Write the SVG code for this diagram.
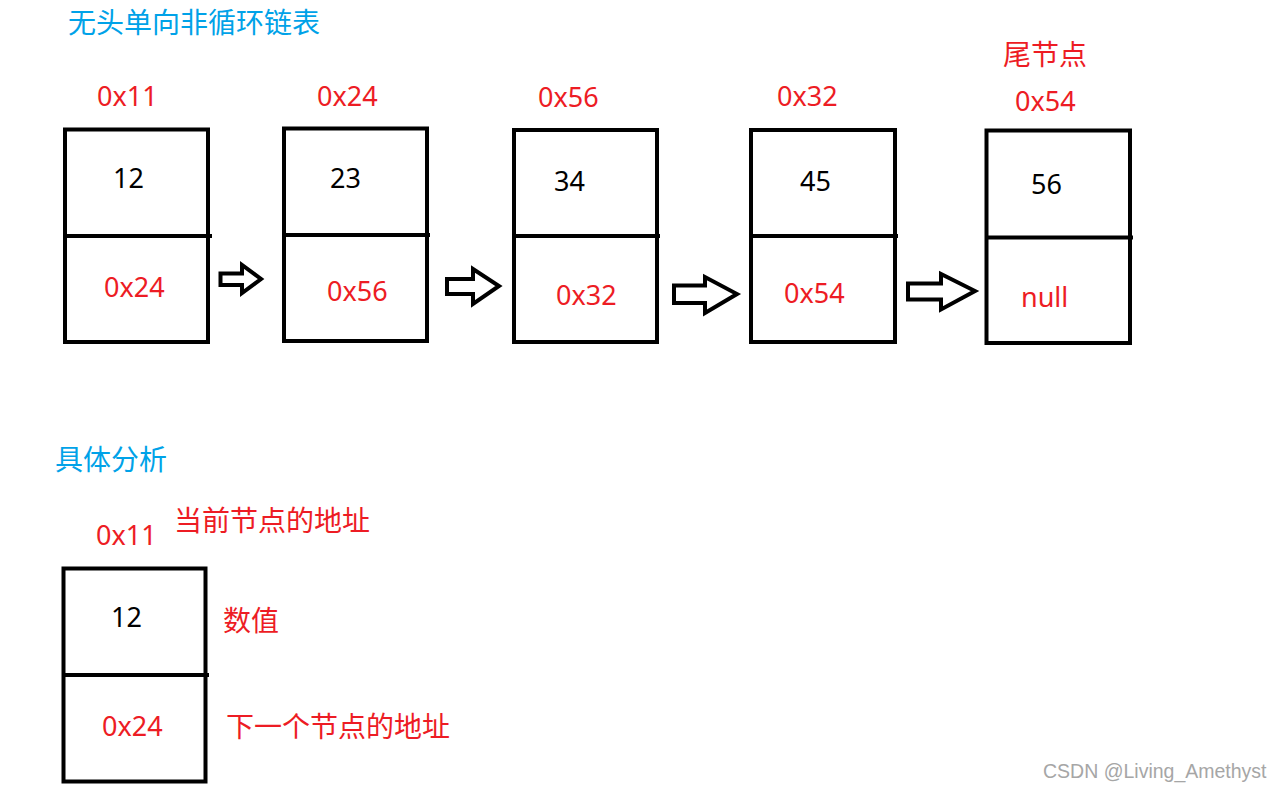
<svg xmlns="http://www.w3.org/2000/svg" width="1283" height="793" viewBox="0 0 1283 793">
<style>
.box{fill:none;stroke:#000;stroke-width:4}
.div{stroke:#000;stroke-width:4}
.arr{fill:#fff;stroke:#000;stroke-width:4;stroke-linejoin:miter}
.num{font-family:"Noto Sans","Noto Sans CJK SC",sans-serif;font-size:27px;fill:#000}
.red{font-family:"Noto Sans","Noto Sans CJK SC",sans-serif;font-size:27px;fill:#ED1C24}
.cjk{font-family:"Noto Sans CJK SC",sans-serif;font-size:28px}
.blue{fill:#00A2E8}
.rc{fill:#ED1C24}
.wm{font-family:"Liberation Sans",sans-serif;font-size:19.5px;fill:#a6a6a6}
</style>
<rect width="1283" height="793" fill="#fff"/>
<text class="cjk blue" x="68" y="33">无头单向非循环链表</text>
<text class="cjk blue" x="55" y="470">具体分析</text>

<g id="node1">
<text class="red" x="97" y="106">0x11</text>
<rect class="box" x="65" y="129.5" width="143" height="212.5"/>
<line class="div" x1="65" y1="236" x2="212" y2="236"/>
<text class="num" x="113" y="188">12</text>
<text class="red" x="104" y="297">0x24</text>
</g>
<g id="node2">
<text class="red" x="317" y="106">0x24</text>
<rect class="box" x="284" y="128.5" width="143" height="212.5"/>
<line class="div" x1="284" y1="235" x2="430" y2="235"/>
<text class="num" x="330" y="188">23</text>
<text class="red" x="327" y="301">0x56</text>
</g>
<g id="node3">
<text class="red" x="538" y="107">0x56</text>
<rect class="box" x="514" y="130" width="143" height="212"/>
<line class="div" x1="514" y1="236" x2="660" y2="236"/>
<text class="num" x="554" y="191">34</text>
<text class="red" x="556" y="305">0x32</text>
</g>
<g id="node4">
<text class="red" x="777" y="106">0x32</text>
<rect class="box" x="751" y="130" width="144" height="212"/>
<line class="div" x1="751" y1="236" x2="898" y2="236"/>
<text class="num" x="800" y="191">45</text>
<text class="red" x="784" y="303">0x54</text>
</g>
<g id="node5">
<text class="cjk rc" x="1003" y="65">尾节点</text>
<text class="red" x="1015" y="111">0x54</text>
<rect class="box" x="986.5" y="130.5" width="143.5" height="212.5"/>
<line class="div" x1="986.5" y1="237.5" x2="1133" y2="237.5"/>
<text class="num" x="1031" y="194">56</text>
<text class="red" x="1021" y="307">null</text>
</g>

<g id="connectors">
<polygon class="arr" points="220.5,273.5 242,273.5 242,265 261,279 242,293 242,285 220.5,285"/>
<polygon class="arr" points="447,279 473,279 473,269 499,286 473,304 473,294 447,294"/>
<polygon class="arr" points="674,285.5 705,285.5 705,277 737,294 705,313 705,303 674,303"/>
<polygon class="arr" points="908,283.5 941,283.5 941,274 975,291 941,309.5 941,299.5 908,299.5"/>
</g>

<g id="legend">
<text class="red" x="96" y="545">0x11</text>
<text class="cjk rc" x="174" y="531">当前节点的地址</text>
<rect class="box" x="63.5" y="568.5" width="142" height="213"/>
<line class="div" x1="63.5" y1="675" x2="209" y2="675"/>
<text class="num" x="111" y="627">12</text>
<text class="cjk rc" x="223" y="631">数值</text>
<text class="red" x="102" y="736">0x24</text>
<text class="cjk rc" x="226" y="737">下一个节点的地址</text>
</g>

<text class="wm" x="1043" y="778">CSDN @Living_Amethyst</text>
</svg>
